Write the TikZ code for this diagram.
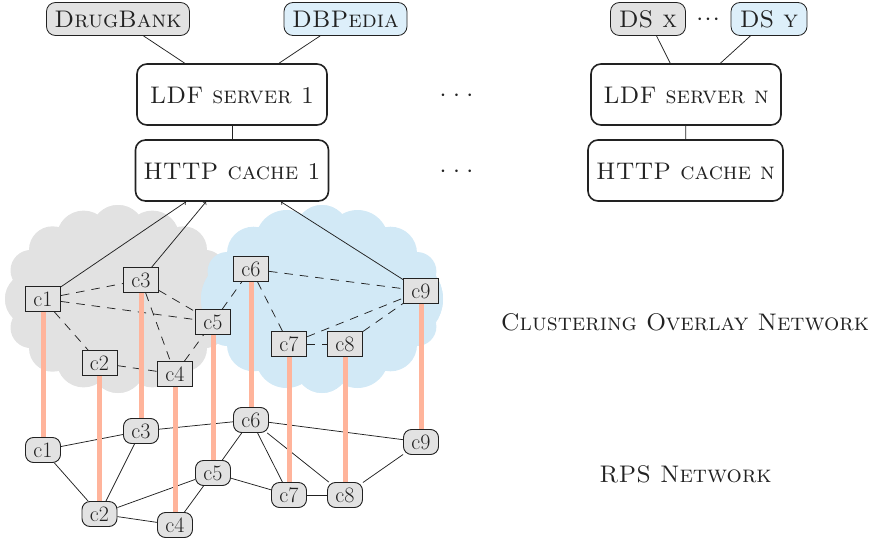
\documentclass[tikz,border=0pt]{standalone}
\definecolor{cgray}{HTML}{E2E2E2}
\definecolor{cblue}{HTML}{D2E9F6}
\definecolor{lblue}{HTML}{DDEFFA}
\definecolor{peach}{HTML}{FFB49B}
\definecolor{ink}{HTML}{222222}
\tikzset{
  every node/.style={text=ink,font=\fontsize{24}{28}\selectfont},
  topnode/.style={draw=ink,line width=0.9pt,fill=cgray,minimum width=35pt,minimum height=25pt,inner sep=0pt,font=\fontsize{22}{26}\selectfont},
  botnode/.style={topnode,rounded corners=8pt},
  srcbox/.style={draw=ink,line width=0.8pt,rounded corners=9pt,minimum height=33pt,inner sep=0pt,font=\fontsize{24}{28}\selectfont\scshape},
  srvbox/.style={draw=ink,line width=1.6pt,rounded corners=10pt,fill=white,minimum height=61pt,inner sep=0pt,text height=18pt,text depth=0pt,font=\fontsize{24}{28}\selectfont\scshape},
  lnk/.style={draw=ink,line width=0.75pt},
  dlnk/.style={lnk,dash pattern=on 8.5pt off 7pt},
  bar/.style={draw=peach,line width=5pt},
  lbl/.style={font=\fontsize{24}{28}\selectfont\scshape}
}
\newcommand{\wdots}{$\cdot\mkern4.75mu{\cdot}\mkern4.75mu{\cdot}$}
\newcommand{\ndots}{$\cdot\mkern1mu{\cdot}\mkern1mu{\cdot}$}
\begin{document}
\begin{tikzpicture}[x=1pt,y=-1pt]
\useasboundingbox (0,0) rectangle (875,543);
% gray cloud
\fill[cgray] (118,299) ellipse [x radius=95,y radius=75];
\foreach \sx in {1,-1}{\foreach \sy in {1,-1}{
  \foreach \dx/\dy/\r in {0/-67.3/26.7,-34.4/-61.4/27,-65.5/-49.2/23.5,-87/-28.6/20.5,-86.4/0/26.6}{
    \fill[cgray] ({118+\sx*\dx},{299+\sy*\dy}) circle [radius=\r];
  }
}}
% blue cloud
\fill[cblue] (322,299) ellipse [x radius=105,y radius=75];
\foreach \sx in {1,-1}{\foreach \sy in {1,-1}{
  \foreach \dx/\dy/\r in {0/-67.3/26.7,35.5/-58/31,68.5/-45.8/26.5,95/-27.6/19.4,79.5/0/41.5}{
    \fill[cblue] ({322+\sx*\dx},{299+\sy*\dy}) circle [radius=\r];
  }
}}
% data sources
\node[srcbox,fill=cgray,minimum width=143pt] (drug) at (118,19) {DrugBank};
\node[srcbox,fill=lblue,minimum width=123pt] (dbp) at (345.5,19) {DBPedia};
\node[srcbox,fill=cgray,minimum width=75pt] (dsx) at (648,19) {DS x};
\node[srcbox,fill=lblue,minimum width=76pt] (dsy) at (769,19) {DS y};
\node (dtop) at (708,19.5) {\ndots};
\node[srvbox,minimum width=190pt] (ldf1) at (232,94.5) {LDF server 1};
\node[srvbox,minimum width=193pt] (http1) at (232,170.5) {HTTP cache 1};
\node[srvbox,minimum width=190pt] (ldfn) at (686,94.5) {LDF server n};
\node[srvbox,minimum width=195pt] (httpn) at (685.5,170.5) {HTTP cache n};
\node (d1) at (456.5,95.5) {\wdots};
\node (d2) at (456.5,171.5) {\wdots};
\node[lbl] (l1) at (685,322) {Clustering Overlay Network};
\node[lbl] (l2) at (685.5,474) {RPS Network};
% overlay and RPS nodes
\foreach \n/\x/\y in {1/43/299,2/99.5/363,3/141/280,4/175/374,5/213/322,6/251/269,7/289/344,8/345/344,9/421/291}{
  \node[topnode] (t\n) at (\x,\y) {c\n};
}
\foreach \n/\x/\y in {1/43/450,2/99.5/514,3/141/431,4/175/525,5/213/473,6/251/420,7/289/495,8/345/495,9/421/442}{
  \node[botnode] (b\n) at (\x,\y) {c\n};
}
% connectors
\foreach \a/\b in {drug/ldf1,dbp/ldf1,dsx/ldfn,dsy/ldfn,ldf1/http1,ldfn/httpn}{
  \draw[lnk] (\a) -- (\b);
}
\foreach \a in {t1,t3,t9}{
  \draw[lnk,->,>=to] (\a) -- (http1);
}
\foreach \a/\b in {1/2,1/3,1/5,2/4,3/4,3/5,4/5,5/6,6/7,6/9,7/8,7/9,8/9}{
  \draw[dlnk] (t\a) -- (t\b);
}
\foreach \a/\b in {1/2,1/3,2/3,2/4,2/5,3/6,4/5,5/6,5/7,6/7,6/8,6/9,7/8,8/9}{
  \draw[lnk] (b\a) -- (b\b);
}
\foreach \n in {1,...,9}{
  \draw[bar] (t\n) -- (b\n);
}
\end{tikzpicture}
\end{document}
